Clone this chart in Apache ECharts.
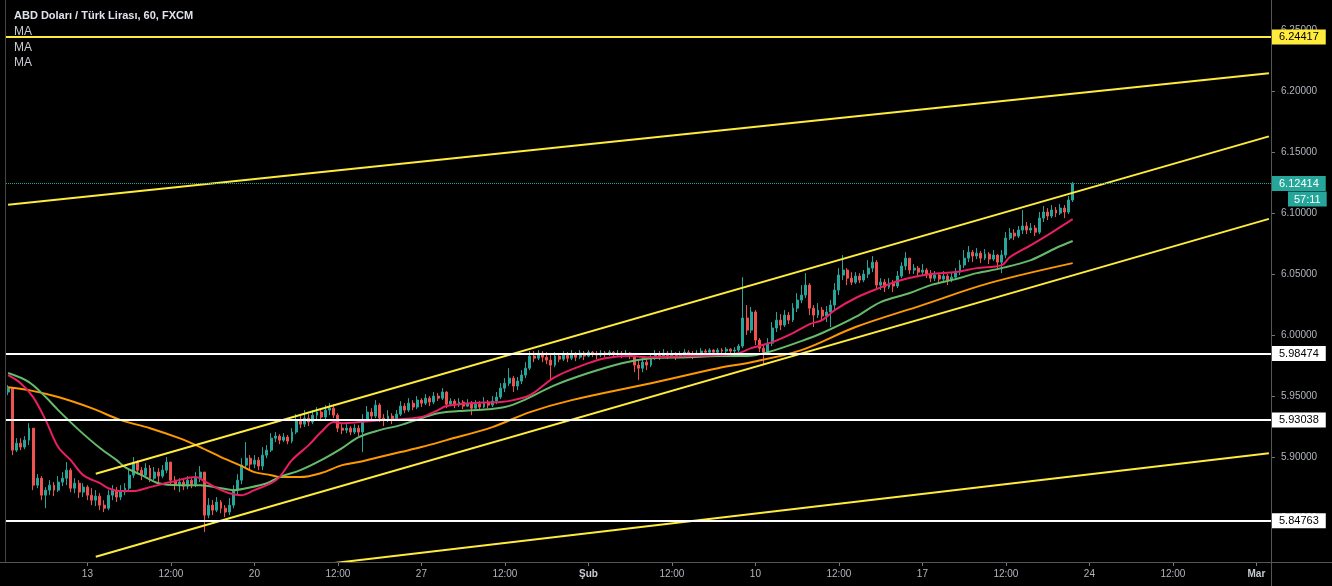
<!DOCTYPE html>
<html><head><meta charset="utf-8">
<script src="https://cdn.jsdelivr.net/npm/echarts@6/dist/echarts.min.js"></script>
<style>html,body{margin:0;padding:0;background:#000;}#c{width:1332px;height:586px;}</style>
</head><body><div id="c"></div>
<script>
// ---------- DATA ----------
const titleText = 'ABD Doları / Türk Lirası, 60, FXCM';
const legendTexts = ['MA', 'MA', 'MA'];
const firstOpen = 5.9532;
// hourly candles: [close, low, high]; open = previous close
const bars = [
[5.9564,5.9507,5.9589],[5.9056,5.9015,5.9564],[5.9113,5.9040,5.9154],[5.9081,5.9056,5.9154],[5.9138,5.9064,5.9171],
[5.9236,5.9097,5.9277],[5.8769,5.8728,5.9220],[5.8826,5.8744,5.8859],[5.8687,5.8646,5.8843],[5.8728,5.8580,5.8753],
[5.8769,5.8687,5.8810],[5.8728,5.8679,5.8794],[5.8794,5.8712,5.8843],[5.8826,5.8761,5.8876],[5.8892,5.8769,5.8958],
[5.8744,5.8712,5.8908],[5.8785,5.8703,5.8826],[5.8712,5.8663,5.8810],[5.8753,5.8671,5.8785],[5.8687,5.8646,5.8769],
[5.8646,5.8605,5.8744],[5.8679,5.8597,5.8728],[5.8605,5.8564,5.8703],[5.8580,5.8548,5.8646],[5.8687,5.8564,5.8728],
[5.8728,5.8646,5.8769],[5.8671,5.8630,5.8753],[5.8712,5.8646,5.8769],[5.8744,5.8687,5.8785],[5.8851,5.8728,5.8908],
[5.8958,5.8826,5.8999],[5.8892,5.8859,5.8974],[5.8851,5.8810,5.8917],[5.8908,5.8826,5.8949],[5.8826,5.8794,5.8933],
[5.8876,5.8810,5.8917],[5.8843,5.8785,5.8908],[5.8892,5.8826,5.8933],[5.8958,5.8867,5.8999],[5.8810,5.8769,5.8949],
[5.8769,5.8728,5.8843],[5.8794,5.8712,5.8826],[5.8761,5.8728,5.8818],[5.8810,5.8736,5.8843],[5.8777,5.8744,5.8826],
[5.8826,5.8753,5.8876],[5.8876,5.8794,5.8925],[5.8523,5.8384,5.8859],[5.8605,5.8498,5.8663],[5.8564,5.8523,5.8646],
[5.8630,5.8548,5.8671],[5.8580,5.8539,5.8646],[5.8548,5.8507,5.8605],[5.8605,5.8523,5.8663],[5.8728,5.8580,5.8769],
[5.8810,5.8695,5.8859],[5.8933,5.8777,5.8990],[5.8990,5.8908,5.9122],[5.8941,5.8892,5.9015],[5.8974,5.8908,5.9015],
[5.8925,5.8892,5.8999],[5.9015,5.8892,5.9081],[5.9056,5.8990,5.9097],[5.9154,5.9040,5.9195],[5.9171,5.9122,5.9204],
[5.9138,5.9105,5.9187],[5.9163,5.9122,5.9195],[5.9130,5.9105,5.9179],[5.9204,5.9113,5.9236],[5.9302,5.9187,5.9351],
[5.9269,5.9236,5.9343],[5.9318,5.9245,5.9384],[5.9286,5.9253,5.9351],[5.9343,5.9269,5.9384],[5.9368,5.9302,5.9409],
[5.9327,5.9294,5.9392],[5.9384,5.9310,5.9425],[5.9400,5.9343,5.9441],[5.9343,5.9318,5.9433],[5.9236,5.9204,5.9359],
[5.9220,5.9187,5.9269],[5.9236,5.9195,5.9269],[5.9204,5.9179,5.9253],[5.9236,5.9187,5.9269],[5.9204,5.9171,5.9261],
[5.9302,5.9040,5.9351],[5.9368,5.9286,5.9417],[5.9335,5.9302,5.9400],[5.9425,5.9318,5.9466],[5.9318,5.9286,5.9441],
[5.9302,5.9253,5.9351],[5.9335,5.9286,5.9384],[5.9302,5.9269,5.9359],[5.9351,5.9294,5.9384],[5.9417,5.9335,5.9458],
[5.9384,5.9359,5.9441],[5.9441,5.9368,5.9482],[5.9409,5.9384,5.9466],[5.9466,5.9392,5.9499],[5.9441,5.9409,5.9482],
[5.9482,5.9425,5.9515],[5.9450,5.9417,5.9499],[5.9499,5.9433,5.9532],[5.9482,5.9458,5.9523],[5.9532,5.9466,5.9564],
[5.9433,5.9400,5.9540],[5.9458,5.9417,5.9482],[5.9425,5.9400,5.9474],[5.9450,5.9409,5.9482],[5.9417,5.9392,5.9466],
[5.9441,5.9409,5.9474],[5.9400,5.9343,5.9458],[5.9433,5.9392,5.9466],[5.9409,5.9384,5.9458],[5.9450,5.9400,5.9491],
[5.9425,5.9400,5.9466],[5.9458,5.9409,5.9499],[5.9491,5.9433,5.9532],[5.9564,5.9474,5.9605],[5.9605,5.9532,5.9646],
[5.9646,5.9581,5.9728],[5.9581,5.9532,5.9663],[5.9622,5.9548,5.9655],[5.9671,5.9597,5.9712],[5.9728,5.9646,5.9777],
[5.9827,5.9712,5.9868],[5.9810,5.9777,5.9868],[5.9851,5.9794,5.9876],[5.9818,5.9777,5.9868],[5.9794,5.9761,5.9859],
[5.9753,5.9630,5.9835],[5.9827,5.9736,5.9859],[5.9802,5.9777,5.9851],[5.9835,5.9786,5.9868],[5.9810,5.9777,5.9859],
[5.9843,5.9794,5.9876],[5.9818,5.9786,5.9859],[5.9851,5.9802,5.9876],[5.9827,5.9794,5.9868],[5.9859,5.9818,5.9876],
[5.9843,5.9818,5.9868],
[5.9835,5.9802,5.9868],[5.9851,5.9818,5.9876],[5.9843,5.9818,5.9868],[5.9859,5.9827,5.9876],[5.9843,5.9818,5.9868],
[5.9851,5.9827,5.9876],[5.9835,5.9810,5.9868],[5.9851,5.9818,5.9876],[5.9827,5.9802,5.9859],
[5.9753,5.9695,5.9851],[5.9728,5.9630,5.9794],[5.9777,5.9695,5.9827],[5.9753,5.9712,5.9810],[5.9810,5.9736,5.9843],
[5.9835,5.9794,5.9876],[5.9818,5.9794,5.9868],[5.9851,5.9810,5.9884],[5.9827,5.9802,5.9868],[5.9843,5.9818,5.9876],
[5.9818,5.9794,5.9859],[5.9835,5.9810,5.9868],[5.9859,5.9827,5.9884],[5.9843,5.9818,5.9876],[5.9827,5.9802,5.9868],
[5.9851,5.9818,5.9876],[5.9868,5.9843,5.9892],[5.9859,5.9835,5.9884],[5.9876,5.9843,5.9892],[5.9859,5.9843,5.9884],
[5.9876,5.9851,5.9892],[5.9868,5.9843,5.9892],[5.9884,5.9851,5.9900],[5.9868,5.9843,5.9892],[5.9876,5.9851,5.9900],
[5.9909,5.9859,5.9925],[6.0139,5.9892,6.0474],[6.0040,6.0000,6.0245],[6.0188,6.0016,6.0229],[5.9958,5.9917,6.0204],
[5.9892,5.9859,5.9974],[5.9859,5.9753,5.9925],[5.9933,5.9835,5.9974],[6.0057,5.9909,6.0106],[6.0122,6.0024,6.0188],
[6.0081,6.0040,6.0171],[6.0163,6.0065,6.0204],[6.0122,6.0089,6.0188],[6.0220,6.0106,6.0261],[6.0286,6.0188,6.0343],
[6.0327,6.0261,6.0409],[6.0409,6.0302,6.0507],[6.0220,6.0163,6.0425],[6.0163,6.0065,6.0245],[6.0204,6.0139,6.0261],
[6.0155,6.0122,6.0229],[6.0188,6.0106,6.0237],[6.0245,6.0065,6.0286],[6.0368,6.0204,6.0425],[6.0491,6.0327,6.0548],
[6.0532,6.0450,6.0655],[6.0466,6.0409,6.0548],[6.0433,6.0409,6.0515],[6.0483,6.0417,6.0515],[6.0450,6.0425,6.0507],
[6.0499,6.0433,6.0532],[6.0548,6.0466,6.0614],[6.0597,6.0515,6.0647],[6.0409,6.0368,6.0614],[6.0433,6.0368,6.0466],
[6.0392,6.0352,6.0458],[6.0425,6.0376,6.0466],[6.0401,6.0352,6.0450],[6.0483,6.0384,6.0524],[6.0565,6.0466,6.0597],
[6.0630,6.0532,6.0679],[6.0532,6.0499,6.0630],[6.0548,6.0499,6.0581],[6.0515,6.0474,6.0565],[6.0532,6.0483,6.0581],
[6.0499,6.0466,6.0548],[6.0466,6.0433,6.0532],[6.0491,6.0442,6.0524],[6.0458,6.0425,6.0507],[6.0483,6.0433,6.0524],
[6.0450,6.0409,6.0499],[6.0474,6.0433,6.0515],[6.0515,6.0450,6.0548],[6.0573,6.0491,6.0614],[6.0630,6.0548,6.0696],
[6.0679,6.0597,6.0729],[6.0647,6.0597,6.0696],[6.0671,6.0622,6.0712],[6.0630,6.0589,6.0688],[6.0663,6.0614,6.0704],
[6.0622,6.0581,6.0679],[6.0655,6.0606,6.0696],[6.0597,6.0548,6.0663],[6.0655,6.0507,6.0696],[6.0794,6.0630,6.0843],
[6.0835,6.0778,6.0876],[6.0811,6.0778,6.0868],[6.0860,6.0794,6.0893],[6.0893,6.0827,6.1024],[6.0860,6.0827,6.0926],
[6.0876,6.0835,6.0917],[6.0843,6.0811,6.0901],[6.0958,6.0827,6.1008],[6.1008,6.0926,6.1057],[6.0975,6.0942,6.1040],
[6.1024,6.0958,6.1065],[6.0999,6.0967,6.1049],[6.1040,6.0983,6.1073],[6.1008,6.0958,6.1065],[6.1106,6.0991,6.1139],
[6.12414,6.1090,6.1255]
];
// moving averages sampled as [candle index, value]
const maFast = [[0,5.9671],[3,5.9605],[6,5.9491],[9,5.9302],[12,5.9081],[15,5.8974],[18,5.8851],[22,5.8785],[24,5.8744],[27,5.8720],[30,5.8720],[34,5.8753],[39,5.8794],[45,5.8835],[47,5.8802],[50,5.8744],[53,5.8703],[56,5.8687],[59,5.8728],[63,5.8785],[65,5.8835],[68,5.8974],[72,5.9097],[75,5.9204],[78,5.9286],[80,5.9277],[84,5.9286],[89,5.9302],[94,5.9310],[99,5.9327],[103,5.9384],[105,5.9417],[111,5.9441],[118,5.9450],[121,5.9466],[125,5.9507],[131,5.9655],[139,5.9769],[143,5.9810],[149,5.9827],[154,5.9818],[163,5.9827],[170,5.9835],[175,5.9851],[178,5.9892],[183,5.9941],[188,6.0016],[192,6.0089],[195,6.0122],[198,6.0204],[203,6.0303],[208,6.0376],[214,6.0450],[221,6.0499],[227,6.0516],[232,6.0548],[238,6.0573],[240,6.0639],[245,6.0737],[249,6.0819],[255,6.0950]];
const maMid = [[0,5.9688],[5,5.9614],[9,5.9491],[12,5.9384],[17,5.9220],[22,5.9073],[26,5.8974],[28,5.8917],[32,5.8851],[36,5.8785],[41,5.8769],[46,5.8769],[51,5.8744],[54,5.8728],[57,5.8744],[62,5.8785],[65,5.8835],[70,5.8892],[75,5.8974],[80,5.9073],[84,5.9163],[89,5.9220],[94,5.9261],[99,5.9318],[103,5.9359],[108,5.9376],[115,5.9392],[119,5.9409],[123,5.9458],[131,5.9589],[139,5.9688],[147,5.9769],[154,5.9810],[163,5.9818],[170,5.9827],[177,5.9827],[182,5.9859],[190,5.9950],[195,6.0016],[203,6.0148],[209,6.0270],[216,6.0344],[221,6.0409],[227,6.0458],[232,6.0507],[238,6.0548],[245,6.0614],[251,6.0713],[255,6.0770]];
const maSlow = [[0,5.9572],[5,5.9548],[12,5.9491],[20,5.9400],[27,5.9302],[34,5.9236],[41,5.9154],[46,5.9081],[51,5.8999],[56,5.8925],[59,5.8876],[63,5.8851],[65,5.8835],[70,5.8835],[75,5.8868],[80,5.8933],[84,5.8958],[89,5.8999],[94,5.9040],[99,5.9081],[105,5.9138],[116,5.9245],[125,5.9368],[135,5.9466],[154,5.9605],[170,5.9728],[178,5.9777],[190,5.9876],[203,6.0065],[219,6.0245],[235,6.0425],[255,6.0589]];
// drawn trend lines: two anchor points [candle index, price]
const trendTop = [[0,6.1067],[302,6.2146]];
const trendUpper = [[21,5.8862],[302,6.1628]];
const trendLower = [[21,5.8182],[302,6.0952]];
const trendBottom = [[70,5.8098],[302,5.9030]];
// horizontal levels
const yellowLevels = [6.24417];
const whiteLevels = [5.98474, 5.93038, 5.84763];
const lastPrice = 6.12414;
const countdown = '57:11';
// time axis: label at candle slot index
const tickLabels = {19:'13',39:'12:00',59:'20',79:'12:00',99:'27',119:'12:00',139:'Şub',159:'12:00',179:'10',199:'12:00',219:'17',239:'12:00',259:'24',279:'12:00',299:'Mar'};
const boldTicks = ['Şub','Mar'];
const SLOTS = 303;
const yMin = 5.8139, yMax = 6.2746;

// ---------- STYLE ----------
const UP = '#26a69a', DOWN = '#ef5350', YELLOW = '#ffeb3b', TEAL = '#26a69a';
const FONT = '"Liberation Sans", Arial, sans-serif';
const G = {left: 6, right: 61, top: 0, bottom: 24};
const W = 1332, H = 586;

const categories = Array.from({length: SLOTS}, (_, i) => String(i));
let prev = firstOpen;
const candleData = bars.map(b => {
  const o = prev, c = b[0];
  prev = c;
  return [o, c, Math.min(b[1], o, c), Math.max(b[2], o, c)];
});

const chart = echarts.init(document.getElementById('c'), null, {renderer: 'canvas'});
const isTick = (idx) => tickLabels[idx] !== undefined;

function lvl(v, color, type, width, bg, fg) {
  return {yAxis: v, lineStyle: {color: color, type: type, width: width},
    label: {formatter: v.toFixed(5), backgroundColor: bg, color: fg}};
}
const levelData = []
  .concat(yellowLevels.map(v => lvl(v, YELLOW, 'solid', 2, YELLOW, '#000')))
  .concat(whiteLevels.map(v => lvl(v, '#ffffff', 'solid', 2, '#ffffff', '#000')))
  .concat([lvl(lastPrice, TEAL, 'dotted', 1, TEAL, '#fff')]);

function trend(data, extra) {
  return Object.assign({type: 'line', data: data, showSymbol: false, silent: true,
    lineStyle: {color: YELLOW, width: 2}, z: 4}, extra || {});
}
function ma(data, color) {
  return {type: 'line', data: data, showSymbol: false, smooth: 0.35, silent: true,
    lineStyle: {color: color, width: 2}, z: 3};
}

chart.setOption({
  backgroundColor: '#000',
  animation: false,
  textStyle: {fontFamily: FONT},
  grid: {left: G.left, right: G.right, top: G.top, bottom: G.bottom, containLabel: false},
  xAxis: {
    type: 'category', data: categories, boundaryGap: true,
    axisLine: {show: false},
    axisTick: {show: true, alignWithLabel: true, interval: isTick, length: 4, lineStyle: {color: '#777'}},
    axisLabel: {
      interval: isTick, color: '#b2b5be', fontSize: 10, margin: 7, fontFamily: FONT,
      formatter: (v, idx) => {
        const t = tickLabels[Number(v)];
        if (t === undefined) return '';
        return boldTicks.includes(t) ? '{b|' + t + '}' : t;
      },
      rich: {b: {fontWeight: 'bold', color: '#c8cbd2', fontSize: 10, fontFamily: FONT}}
    },
    splitLine: {show: false}
  },
  yAxis: {
    type: 'value', position: 'right', min: yMin, max: yMax, splitNumber: 9, scale: true,
    axisLine: {show: false},
    axisTick: {show: true, length: 4, lineStyle: {color: '#777'}},
    splitLine: {show: false},
    axisLabel: {formatter: v => v.toFixed(5), color: '#b2b5be', fontSize: 10, margin: 10,
      showMinLabel: false, showMaxLabel: false, fontFamily: FONT}
  },
  series: [
    {type: 'candlestick', data: candleData, barWidth: '58%', silent: true,
      itemStyle: {color: UP, color0: DOWN, borderColor: UP, borderColor0: DOWN, borderWidth: 1}, z: 2},
    ma(maSlow, '#ff9800'),
    ma(maMid, '#66bb6a'),
    ma(maFast, '#e91e63'),
    trend(trendTop),
    trend(trendUpper),
    trend(trendLower),
    trend(trendBottom, {
      markLine: {
        silent: true, symbol: ['none', 'none'], animation: false, z: 5, precision: 5,
        label: {show: true, position: 'end', distance: 1, padding: [2, 7, 1, 7], fontSize: 11, fontFamily: FONT, lineHeight: 12},
        data: levelData
      }
    })
  ]
});

// layout-derived frame + texts
const gx1 = W - G.right, gy1 = H - G.bottom;
const py = chart.convertToPixel({yAxisIndex: 0}, lastPrice);
const graphics = [
  {type: 'line', shape: {x1: 0, y1: gy1 + 0.5, x2: W, y2: gy1 + 0.5}, style: {stroke: '#555', lineWidth: 1}, silent: true, z: 10},
  {type: 'line', shape: {x1: gx1 + 0.5, y1: 0, x2: gx1 + 0.5, y2: H}, style: {stroke: '#555', lineWidth: 1}, silent: true, z: 10},
  {type: 'line', shape: {x1: G.left - 0.5, y1: 0, x2: G.left - 0.5, y2: gy1}, style: {stroke: '#444', lineWidth: 1}, silent: true, z: 10},
  {type: 'text', x: 14, y: 10, style: {text: titleText, fill: '#e0e3eb', font: 'bold 11px ' + FONT}, silent: true, z: 20},
  {type: 'text', x: gx1 + 17, y: py + 8, style: {text: countdown, fill: '#fff', backgroundColor: TEAL, padding: [2, 6, 1, 6], font: '11px ' + FONT, lineHeight: 12}, silent: true, z: 20}
];
legendTexts.forEach((t, i) => graphics.push({type: 'text', x: 14, y: 26 + i * 15.5, style: {text: t, fill: '#c8cbd2', font: '12px ' + FONT}, silent: true, z: 20}));
chart.setOption({graphic: graphics});
</script>
</body></html>
